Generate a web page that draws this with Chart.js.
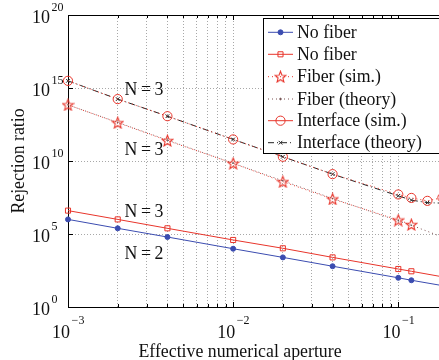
<!DOCTYPE html>
<html>
<head>
<meta charset="utf-8">
<script src="https://cdn.jsdelivr.net/npm/chart.js@4.4.0/dist/chart.umd.min.js"></script>
<style>
  html, body { margin: 0; padding: 0; background: #fff; overflow: hidden; }
  #wrap { position: relative; width: 460px; height: 360px; }
</style>
</head>
<body>
<div id="wrap"><canvas id="chart" width="460" height="360"></canvas></div>
<script>
// values
const aperture = [0.001, 0.002, 0.004, 0.01, 0.02, 0.04, 0.1, 0.12, 0.2];
const noFiberN2 = [1e6, 2.45e5, 6.2e4, 9.8e3, 2.5e3, 6.2e2, 100, 68, 25];
const noFiberN3 = [4e6, 1e6, 2.45e5, 3.9e4, 1.05e4, 2.5e3, 400, 280, 100];
const fiberSim = [7e13, 4.2e12, 2.5e11, 6.9e9, 3.8e8, 2.5e7, 9e5, 4.4e5];
const fiberTheory = [7e13, 4.4e12, 2.7e11, 7e9, 4.4e8, 2.7e7, 8e5, 4e5, 4.4e4];
const interfaceAperture = [0.001, 0.002, 0.004, 0.01, 0.02, 0.04, 0.1, 0.12, 0.15, 0.185, 0.2];
const interfaceSim = [3.1e15, 1.74e14, 1.17e13, 3e11, 1.95e10, 1.26e9, 5.1e7, 2.95e7, 1.86e7, 3.1e7];
const interfaceTheory = [3.1e15, 1.74e14, 1.17e13, 3e11, 1.95e10, 1.26e9, 4.1e7, 2.1e7, 1.4e7, 1.3e7, 1.3e7];

const yTicks = [1, 1e5, 1e10, 1e15, 1e20];
const xDecades = [1e-3, 1e-2, 1e-1];
const legendLabels = ['No fiber', 'No fiber', 'Fiber (sim.)', 'Fiber (theory)', 'Interface (sim.)', 'Interface (theory)'];
const notes = [
  { text: 'N\u2009=\u20093', x: 0.0022, y: 6.5e14 },
  { text: 'N\u2009=\u20093', x: 0.0022, y: 5e10 },
  { text: 'N\u2009=\u20093', x: 0.0022, y: 3e6 },
  { text: 'N\u2009=\u20092', x: 0.0022, y: 4e3 }
];

const BLUE = '#3b4cb0';
const RED = '#e8352b';
const SERIF = '"Liberation Serif", "Times New Roman", serif';

function pts(xs, ys) {
  return ys.map((v, i) => ({ x: xs[i], y: v }));
}

function makeStar(color) {
  const c = document.createElement('canvas');
  c.width = 13; c.height = 13;
  const g = c.getContext('2d');
  g.strokeStyle = color;
  g.lineWidth = 1.1;
  g.beginPath();
  for (let i = 0; i < 10; i++) {
    const r = i % 2 ? 2.5 : 5.8;
    const t = -Math.PI / 2 + i * Math.PI / 5;
    const px = 6.5 + r * Math.cos(t), py = 7 + r * Math.sin(t);
    if (i) g.lineTo(px, py); else g.moveTo(px, py);
  }
  g.closePath();
  g.stroke();
  return c;
}
const star = makeStar(RED);

const edge = r => c => (c.raw && c.raw.x >= 0.2) ? 0 : r;

const datasets = [
  {
    label: legendLabels[0], data: pts(aperture, noFiberN2),
    borderColor: BLUE, backgroundColor: BLUE, borderWidth: 1,
    pointStyle: 'circle', pointRadius: edge(2.5), pointBorderWidth: 1
  },
  {
    label: legendLabels[1], data: pts(aperture, noFiberN3),
    borderColor: RED, backgroundColor: 'rgba(0,0,0,0)', borderWidth: 1,
    pointStyle: 'rect', pointRadius: edge(3.6), pointBorderWidth: 1
  },
  {
    label: legendLabels[2], data: pts(aperture, fiberSim),
    borderColor: RED, backgroundColor: RED, borderWidth: 1, borderDash: [1, 3],
    pointStyle: star, pointRadius: 5
  },
  {
    label: legendLabels[3], data: pts(aperture, fiberTheory),
    borderColor: '#7a5050', backgroundColor: '#555', borderWidth: 1, borderDash: [1, 3], borderDashOffset: 2,
    pointStyle: 'circle', pointRadius: edge(0.8), pointBorderWidth: 0
  },
  {
    label: legendLabels[4], data: pts(interfaceAperture, interfaceSim),
    borderColor: RED, backgroundColor: 'rgba(0,0,0,0)', borderWidth: 1, borderDash: [1, 3],
    pointStyle: 'circle', pointRadius: 4.6, pointBorderWidth: 1
  },
  {
    label: legendLabels[5], data: pts(interfaceAperture, interfaceTheory),
    borderColor: '#222', backgroundColor: '#222', borderWidth: 1, borderDash: [6, 3, 1, 3],
    pointStyle: 'crossRot', pointRadius: edge(2.6), pointBorderWidth: 1
  }
];
datasets.forEach(d => { d.clip = false; d.tension = 0; });

function drawPow(ctx, exp, px, py, mode) {
  ctx.fillStyle = '#111';
  ctx.textBaseline = 'middle';
  ctx.font = '18px ' + SERIF;
  const w10 = ctx.measureText('10').width;
  ctx.font = '12px ' + SERIF;
  const wE = ctx.measureText(exp).width;
  let x0, yBase, yExp;
  if (mode === 'x') {
    x0 = px - (w10 + 1 + wE) / 2;
    yBase = py; yExp = py - 12;
  } else {
    x0 = px - w10;
    yBase = py + 3; yExp = py - 7;
  }
  ctx.textAlign = 'left';
  ctx.font = '18px ' + SERIF;
  ctx.fillText('10', x0, yBase);
  ctx.font = '12px ' + SERIF;
  ctx.fillText(exp, x0 + w10 + 1.5, yExp);
}

function expText(v) {
  const e = Math.round(Math.log10(v));
  return e < 0 ? '\u2212' + (-e) : String(e);
}

const decorations = {
  id: 'decorations',
  afterDraw(chart) {
    const { ctx, chartArea: a, scales: { x, y } } = chart;
    ctx.save();
    ctx.strokeStyle = '#000';
    ctx.lineWidth = 1;
    // top frame line
    ctx.beginPath();
    ctx.moveTo(a.left, a.top + 0.5);
    ctx.lineTo(a.right, a.top + 0.5);
    ctx.stroke();
    // inward tick marks
    ctx.beginPath();
    x.ticks.forEach(t => {
      const px = Math.round(x.getPixelForValue(t.value)) + 0.5;
      const len = xDecades.includes(t.value) ? 5 : 3;
      ctx.moveTo(px, a.bottom); ctx.lineTo(px, a.bottom - len);
      ctx.moveTo(px, a.top); ctx.lineTo(px, a.top + len);
    });
    yTicks.forEach(v => {
      const py = Math.round(y.getPixelForValue(v)) + 0.5;
      ctx.moveTo(a.left, py); ctx.lineTo(a.left + 5, py);
    });
    ctx.stroke();

    // tick labels
    xDecades.forEach(v => drawPow(ctx, expText(v), x.getPixelForValue(v), 333, 'x'));
    yTicks.forEach(v => drawPow(ctx, expText(v), 50, y.getPixelForValue(v), 'y'));

    // axis titles
    ctx.fillStyle = '#111';
    ctx.font = '17.8px ' + SERIF;
    ctx.textAlign = 'center';
    ctx.textBaseline = 'middle';
    ctx.fillText('Effective numerical aperture', (a.left + 412) / 2, 352);
    ctx.save();
    ctx.translate(19.5, (a.top + a.bottom) / 2);
    ctx.rotate(-Math.PI / 2);
    ctx.fillText('Rejection ratio', 0, 0);
    ctx.restore();

    // N labels
    ctx.textAlign = 'left';
    notes.forEach(n => ctx.fillText(n.text, x.getPixelForValue(n.x), y.getPixelForValue(n.y)));

    // legend box
    const L = 263.5, T = 18.5, B = 153.5;
    ctx.fillStyle = '#fff';
    ctx.fillRect(L, T, 470 - L, B - T);
    ctx.strokeStyle = '#000';
    ctx.strokeRect(L, T, 470 - L, B - T);
    const rows = [32.3, 54.3, 76.7, 99, 120.7, 142.7];
    chart.data.datasets.forEach((d, i) => {
      const ry = rows[i];
      ctx.save();
      ctx.strokeStyle = d.borderColor;
      ctx.lineWidth = 1;
      ctx.setLineDash(i === 4 ? [] : (d.borderDash || []));
      ctx.beginPath();
      ctx.moveTo(268, ry); ctx.lineTo(293, ry);
      ctx.stroke();
      ctx.setLineDash([]);
      ctx.fillStyle = d.backgroundColor;
      const r = typeof d.pointRadius === 'function' ? d.pointRadius({ raw: { x: 0 } }) : d.pointRadius;
      Chart.helpers.drawPoint(ctx, {
        pointStyle: d.pointStyle, radius: r, rotation: 0,
        borderWidth: d.pointBorderWidth || 1
      }, 280.5, ry);
      ctx.restore();
      ctx.fillStyle = '#111';
      ctx.font = '17.8px ' + SERIF;
      ctx.textAlign = 'left';
      ctx.textBaseline = 'middle';
      ctx.fillText(d.label, 297, ry + 1);
    });
    ctx.restore();
  }
};

const gridStyle = {
  display: true, color: '#a8a8a8', lineWidth: 1, drawTicks: false
};

new Chart(document.getElementById('chart'), {
  type: 'line',
  data: { datasets: datasets },
  options: {
    responsive: false,
    animation: false,
    devicePixelRatio: 1,
    layout: { padding: { left: 68, top: 15, right: 12, bottom: 53 } },
    plugins: { legend: { display: false }, tooltip: { enabled: false } },
    scales: {
      x: {
        type: 'logarithmic', min: 0.001, max: 0.2,
        afterBuildTicks: s => {
          const t = [];
          xDecades.forEach(d => { for (let m = 1; m <= 9; m++) { const v = +(d * m).toPrecision(3); if (v <= 0.2) t.push({ value: v }); } });
          s.ticks = t;
        },
        ticks: { display: false },
        grid: gridStyle,
        border: { display: true, color: '#000', width: 1, dash: [1, 2] }
      },
      y: {
        type: 'logarithmic', min: 1, max: 1e20,
        afterBuildTicks: s => { s.ticks = yTicks.map(v => ({ value: v })); },
        ticks: { display: false },
        grid: gridStyle,
        border: { display: true, color: '#000', width: 1, dash: [1, 2] }
      }
    }
  },
  plugins: [decorations]
});
</script>
</body>
</html>
